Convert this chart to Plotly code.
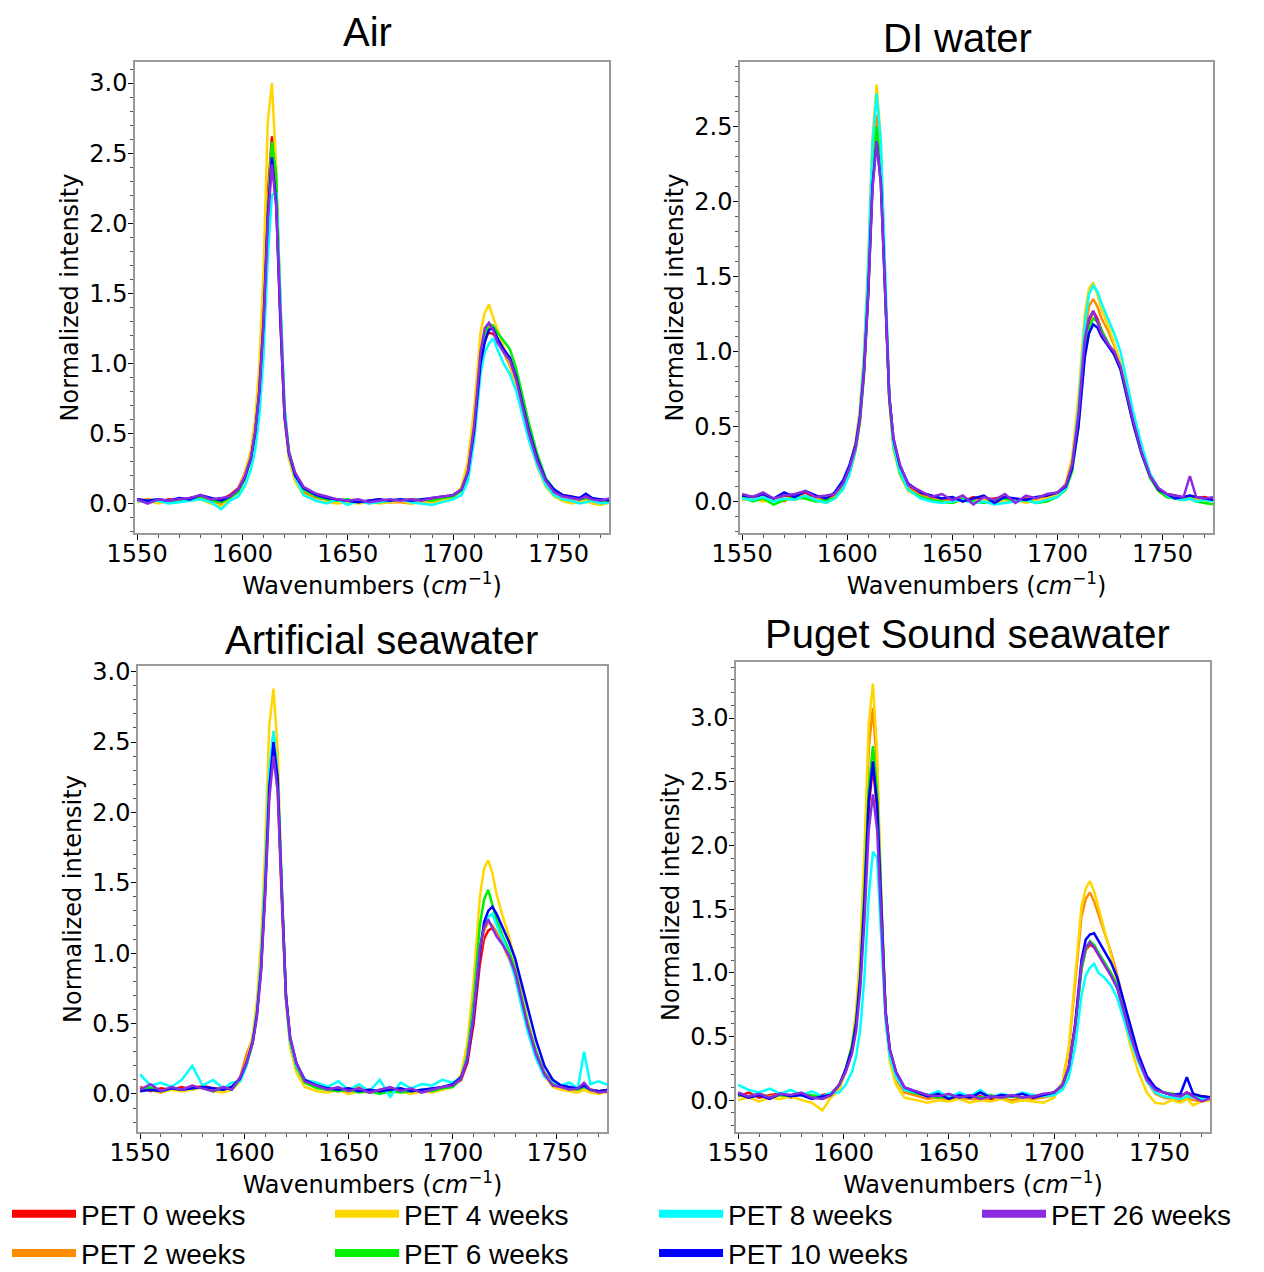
import plotly.graph_objects as go

# ---------------- data ----------------
XS = [1550, 1555, 1560, 1565, 1570, 1575, 1580, 1585, 1590, 1594,
      1598, 1601, 1604, 1606, 1608, 1610, 1612, 1614, 1616, 1618, 1620, 1622, 1625, 1629,
      1635, 1640, 1645, 1650, 1655, 1660, 1665, 1670, 1675, 1680, 1685, 1690, 1695,
      1700, 1704, 1707, 1710, 1713, 1715, 1717, 1719, 1721, 1724, 1727, 1730, 1733, 1736, 1740, 1744, 1748,
      1752, 1756, 1760, 1763, 1766, 1770, 1775]

SERIES_NAMES = ["PET 0 weeks", "PET 2 weeks", "PET 4 weeks", "PET 6 weeks",
                "PET 8 weeks", "PET 10 weeks", "PET 26 weeks"]
PANEL_TITLES = ["Air", "DI water", "Artificial seawater", "Puget Sound seawater"]

# Air
AIR_0 = [0.03, 0.02, 0.01, 0.03, 0.02, 0.04, 0.05, 0.03, 0.03, 0.06,
         0.11, 0.21, 0.36, 0.54, 0.86, 1.40, 2.20, 2.62, 2.25, 1.35, 0.64, 0.37, 0.20, 0.10,
         0.06, 0.04, 0.03, 0.02, 0.01, 0.02, 0.03, 0.01, 0.02, 0.03, 0.02, 0.03, 0.04,
         0.06, 0.10, 0.24, 0.56, 1.02, 1.18, 1.22, 1.21, 1.17, 1.10, 1.03, 0.88, 0.69, 0.51, 0.31, 0.16, 0.09,
         0.06, 0.05, 0.03, 0.04, 0.03, 0.02, 0.03]
AIR_2 = [0.02, 0.03, 0.02, 0.01, 0.03, 0.02, 0.04, 0.03, -0.01, 0.04,
         0.10, 0.20, 0.35, 0.53, 0.84, 1.36, 2.14, 2.55, 2.20, 1.32, 0.62, 0.35, 0.19, 0.08,
         0.04, 0.03, 0.02, 0.01, 0.02, 0.00, 0.02, 0.01, 0.01, 0.00, 0.02, 0.01, 0.03,
         0.05, 0.11, 0.25, 0.58, 1.06, 1.22, 1.27, 1.24, 1.18, 1.08, 0.98, 0.84, 0.65, 0.47, 0.27, 0.13, 0.06,
         0.03, 0.02, 0.01, 0.02, 0.01, 0.00, 0.02]
AIR_4 = [0.01, 0.02, 0.00, 0.02, 0.03, 0.02, 0.03, 0.00, -0.02, 0.03,
         0.10, 0.21, 0.38, 0.60, 0.98, 1.65, 2.72, 3.00, 2.40, 1.35, 0.60, 0.32, 0.16, 0.06,
         0.02, 0.01, 0.00, 0.01, 0.00, 0.01, 0.00, 0.01, 0.02, 0.00, 0.01, 0.00, 0.02,
         0.04, 0.12, 0.30, 0.68, 1.22, 1.36, 1.42, 1.33, 1.24, 1.12, 1.00, 0.84, 0.64, 0.46, 0.26, 0.12, 0.05,
         0.02, 0.00, 0.01, 0.02, 0.00, -0.01, 0.01]
AIR_6 = [0.02, 0.02, 0.03, 0.01, 0.02, 0.03, 0.04, 0.02, 0.01, 0.04,
         0.08, 0.17, 0.31, 0.48, 0.76, 1.22, 2.02, 2.58, 2.35, 1.45, 0.68, 0.38, 0.21, 0.10,
         0.05, 0.03, 0.02, 0.03, 0.01, 0.02, 0.01, 0.02, 0.03, 0.02, 0.03, 0.02, 0.04,
         0.05, 0.09, 0.21, 0.52, 1.02, 1.20, 1.28, 1.27, 1.22, 1.16, 1.10, 0.96, 0.76, 0.57, 0.35, 0.18, 0.10,
         0.06, 0.04, 0.03, 0.04, 0.03, 0.02, 0.02]
AIR_8 = [0.02, 0.01, 0.02, 0.00, 0.01, 0.02, 0.03, 0.01, -0.04, 0.02,
         0.05, 0.12, 0.24, 0.38, 0.62, 1.05, 1.75, 2.20, 2.22, 1.45, 0.68, 0.36, 0.19, 0.06,
         0.02, 0.00, 0.03, -0.01, 0.02, 0.00, 0.01, 0.02, 0.03, 0.01, 0.00, -0.01, 0.01,
         0.03, 0.06, 0.16, 0.45, 0.92, 1.08, 1.14, 1.18, 1.10, 1.00, 0.92, 0.80, 0.62, 0.45, 0.27, 0.13, 0.06,
         0.03, 0.02, 0.00, 0.01, 0.02, 0.00, 0.01]
AIR_10 = [0.03, 0.02, 0.03, 0.02, 0.04, 0.03, 0.06, 0.04, 0.02, 0.05,
          0.10, 0.18, 0.32, 0.50, 0.80, 1.30, 2.05, 2.47, 2.15, 1.30, 0.62, 0.36, 0.20, 0.11,
          0.06, 0.04, 0.03, 0.02, 0.01, 0.02, 0.03, 0.02, 0.03, 0.02, 0.03, 0.04, 0.05,
          0.06, 0.10, 0.22, 0.52, 1.00, 1.15, 1.24, 1.25, 1.18, 1.10, 1.04, 0.90, 0.70, 0.52, 0.32, 0.17, 0.10,
          0.06, 0.05, 0.04, 0.07, 0.04, 0.03, 0.02]
AIR_26 = [0.03, 0.00, 0.03, 0.02, 0.03, 0.04, 0.06, 0.03, 0.04, 0.05,
          0.10, 0.19, 0.33, 0.51, 0.80, 1.28, 2.00, 2.42, 2.12, 1.30, 0.62, 0.37, 0.22, 0.12,
          0.07, 0.05, 0.03, 0.02, 0.03, 0.01, 0.02, 0.03, 0.02, 0.03, 0.02, 0.04, 0.05,
          0.06, 0.10, 0.23, 0.56, 1.08, 1.25, 1.29, 1.24, 1.15, 1.08, 1.02, 0.88, 0.68, 0.50, 0.30, 0.16, 0.08,
          0.05, 0.04, 0.03, 0.05, 0.03, 0.02, 0.04]

# DI water
DI_0 = [0.04, 0.02, 0.05, 0.01, 0.04, 0.03, 0.06, 0.02, 0.01, 0.05,
        0.12, 0.20, 0.36, 0.55, 0.88, 1.42, 2.15, 2.48, 2.20, 1.40, 0.70, 0.40, 0.22, 0.10,
        0.05, 0.03, 0.01, 0.02, 0.00, 0.03, 0.01, 0.02, 0.03, 0.01, 0.02, 0.01, 0.03,
        0.05, 0.10, 0.24, 0.55, 1.00, 1.20, 1.27, 1.22, 1.14, 1.05, 0.98, 0.90, 0.72, 0.55, 0.34, 0.18, 0.09,
        0.05, 0.04, 0.02, 0.03, 0.02, 0.03, 0.01]
DI_2 = [0.02, 0.03, 0.01, 0.02, 0.00, 0.04, 0.03, 0.02, 0.01, 0.03,
        0.11, 0.22, 0.38, 0.58, 0.92, 1.50, 2.25, 2.58, 2.25, 1.42, 0.70, 0.38, 0.20, 0.09,
        0.04, 0.02, 0.01, 0.00, 0.02, 0.01, 0.00, 0.01, 0.02, 0.01, 0.00, 0.02, 0.02,
        0.05, 0.12, 0.28, 0.62, 1.12, 1.30, 1.35, 1.30, 1.22, 1.14, 1.04, 0.92, 0.74, 0.55, 0.34, 0.17, 0.08,
        0.04, 0.03, 0.02, 0.03, 0.02, 0.01, 0.02]
DI_4 = [0.01, 0.02, 0.00, 0.01, 0.02, 0.01, 0.03, 0.01, -0.01, 0.02,
        0.10, 0.22, 0.40, 0.62, 1.00, 1.62, 2.42, 2.78, 2.40, 1.45, 0.68, 0.35, 0.18, 0.07,
        0.03, 0.01, 0.00, -0.01, 0.01, 0.00, 0.01, -0.01, 0.00, 0.01, -0.01, 0.01, 0.02,
        0.04, 0.12, 0.30, 0.70, 1.25, 1.42, 1.46, 1.38, 1.28, 1.18, 1.06, 0.93, 0.74, 0.55, 0.33, 0.16, 0.07,
        0.03, 0.02, 0.01, 0.02, 0.01, 0.00, 0.01]
DI_6 = [0.03, 0.00, 0.02, -0.02, 0.01, 0.03, 0.02, 0.00, 0.01, 0.02,
        0.09, 0.18, 0.34, 0.52, 0.84, 1.38, 2.15, 2.50, 2.22, 1.40, 0.68, 0.37, 0.19, 0.08,
        0.03, 0.01, 0.00, -0.01, 0.02, 0.00, -0.01, 0.01, 0.02, 0.00, 0.01, -0.01, 0.00,
        0.03, 0.08, 0.20, 0.50, 0.98, 1.16, 1.22, 1.20, 1.14, 1.06, 0.98, 0.88, 0.70, 0.52, 0.32, 0.16, 0.07,
        0.03, 0.02, 0.01, 0.02, 0.00, -0.01, -0.02]
DI_8 = [0.02, 0.01, 0.03, 0.00, 0.02, 0.01, 0.04, 0.01, -0.01, 0.02,
        0.08, 0.18, 0.36, 0.58, 0.96, 1.58, 2.38, 2.72, 2.40, 1.48, 0.72, 0.38, 0.20, 0.08,
        0.02, 0.00, -0.01, 0.00, 0.01, -0.01, 0.00, -0.02, -0.01, 0.00, 0.01, -0.01, 0.01,
        0.03, 0.09, 0.24, 0.62, 1.18, 1.38, 1.44, 1.40, 1.32, 1.22, 1.12, 1.00, 0.80, 0.60, 0.38, 0.19, 0.09,
        0.04, 0.02, 0.01, 0.02, 0.00, 0.01, 0.00]
DI_10 = [0.04, 0.03, 0.05, 0.02, 0.06, 0.03, 0.07, 0.04, 0.02, 0.06,
         0.14, 0.24, 0.38, 0.56, 0.88, 1.40, 2.10, 2.40, 2.12, 1.38, 0.70, 0.42, 0.24, 0.12,
         0.06, 0.04, 0.02, 0.03, 0.00, 0.02, 0.04, -0.01, 0.03, 0.02, 0.01, 0.03, 0.04,
         0.06, 0.10, 0.22, 0.50, 0.96, 1.12, 1.18, 1.16, 1.10, 1.04, 0.98, 0.88, 0.70, 0.52, 0.32, 0.17, 0.08,
         0.05, 0.02, 0.03, 0.04, 0.03, 0.02, 0.01]
DI_26 = [0.05, 0.03, 0.06, 0.02, 0.04, 0.05, 0.07, 0.03, 0.04, 0.05,
         0.12, 0.22, 0.36, 0.54, 0.86, 1.38, 2.08, 2.40, 2.12, 1.38, 0.70, 0.42, 0.25, 0.11,
         0.07, 0.03, 0.05, 0.01, 0.04, -0.02, 0.03, 0.01, 0.05, -0.01, 0.04, 0.02, 0.05,
         0.06, 0.11, 0.25, 0.58, 1.08, 1.22, 1.27, 1.20, 1.12, 1.05, 1.00, 0.90, 0.72, 0.54, 0.33, 0.17, 0.09,
         0.05, 0.04, 0.03, 0.17, 0.03, 0.02, 0.03]

# Artificial seawater
ASW_0 = [0.05, 0.02, 0.04, 0.03, 0.05, 0.03, 0.06, 0.04, 0.03, 0.05,
         0.10, 0.22, 0.38, 0.58, 0.92, 1.50, 2.25, 2.55, 2.20, 1.38, 0.68, 0.38, 0.20, 0.09,
         0.05, 0.03, 0.02, 0.04, 0.02, 0.03, 0.01, 0.03, 0.02, 0.03, 0.02, 0.03, 0.04,
         0.06, 0.10, 0.22, 0.50, 0.92, 1.10, 1.16, 1.18, 1.14, 1.07, 0.98, 0.86, 0.68, 0.50, 0.30, 0.15, 0.08,
         0.06, 0.04, 0.03, 0.05, 0.03, 0.02, 0.03]
ASW_2 = [0.04, 0.03, 0.01, 0.05, 0.02, 0.04, 0.06, 0.03, 0.05, 0.04,
         0.12, 0.28, 0.40, 0.58, 0.90, 1.45, 2.15, 2.45, 2.15, 1.35, 0.68, 0.38, 0.20, 0.10,
         0.06, 0.04, 0.03, 0.02, 0.05, 0.01, 0.03, 0.02, 0.04, 0.01, 0.02, 0.03, 0.05,
         0.06, 0.12, 0.26, 0.56, 1.00, 1.16, 1.22, 1.20, 1.15, 1.06, 0.96, 0.84, 0.66, 0.48, 0.29, 0.14, 0.07,
         0.05, 0.04, 0.02, 0.06, 0.03, 0.02, 0.01]
ASW_4 = [0.02, 0.04, 0.01, 0.03, 0.02, 0.03, 0.05, 0.02, 0.01, 0.03,
         0.09, 0.22, 0.42, 0.66, 1.08, 1.76, 2.62, 2.88, 2.45, 1.45, 0.66, 0.33, 0.15, 0.05,
         0.02, 0.01, 0.03, 0.00, 0.02, 0.01, 0.03, 0.01, 0.02, 0.00, 0.02, 0.01, 0.03,
         0.05, 0.14, 0.36, 0.80, 1.40, 1.60, 1.66, 1.57, 1.42, 1.26, 1.12, 0.94, 0.72, 0.52, 0.30, 0.13, 0.05,
         0.03, 0.02, 0.01, 0.03, 0.01, 0.00, 0.02]
ASW_6 = [0.03, 0.05, 0.02, 0.04, 0.03, 0.05, 0.04, 0.02, 0.04, 0.03,
         0.10, 0.20, 0.36, 0.56, 0.90, 1.48, 2.22, 2.56, 2.25, 1.40, 0.68, 0.37, 0.19, 0.08,
         0.04, 0.03, 0.02, 0.03, 0.01, 0.02, 0.00, 0.02, 0.01, 0.02, 0.03, 0.02, 0.04,
         0.05, 0.11, 0.28, 0.66, 1.20, 1.38, 1.45, 1.35, 1.24, 1.12, 1.02, 0.88, 0.68, 0.50, 0.30, 0.15, 0.07,
         0.05, 0.04, 0.03, 0.05, 0.03, 0.02, 0.02]
ASW_8 = [0.14, 0.06, 0.08, 0.05, 0.10, 0.20, 0.06, 0.10, 0.04, 0.08,
         0.09, 0.20, 0.38, 0.58, 0.94, 1.55, 2.30, 2.58, 2.25, 1.40, 0.68, 0.38, 0.20, 0.10,
         0.08, 0.05, 0.09, 0.03, 0.07, 0.02, 0.10, -0.02, 0.08, 0.04, 0.07, 0.06, 0.10,
         0.08, 0.12, 0.26, 0.58, 1.04, 1.20, 1.26, 1.28, 1.20, 1.10, 0.98, 0.82, 0.62, 0.44, 0.25, 0.12, 0.09,
         0.06, 0.08, 0.04, 0.30, 0.07, 0.09, 0.06]
ASW_10 = [0.02, 0.03, 0.02, 0.04, 0.03, 0.04, 0.05, 0.04, 0.03, 0.05,
          0.11, 0.22, 0.37, 0.56, 0.88, 1.45, 2.18, 2.50, 2.24, 1.42, 0.70, 0.40, 0.22, 0.10,
          0.06, 0.04, 0.03, 0.04, 0.02, 0.03, 0.02, 0.03, 0.04, 0.02, 0.03, 0.04, 0.05,
          0.07, 0.12, 0.24, 0.54, 1.00, 1.22, 1.30, 1.33, 1.28, 1.18, 1.08, 0.96, 0.78, 0.60, 0.38, 0.20, 0.10,
          0.06, 0.05, 0.04, 0.06, 0.03, 0.02, 0.03]
ASW_26 = [0.03, 0.07, 0.02, 0.05, 0.03, 0.06, 0.04, 0.02, 0.05, 0.03,
          0.12, 0.22, 0.36, 0.54, 0.86, 1.40, 2.10, 2.40, 2.15, 1.38, 0.68, 0.40, 0.22, 0.09,
          0.06, 0.03, 0.05, 0.02, 0.04, 0.01, 0.03, 0.05, 0.02, 0.04, 0.01, 0.03, 0.05,
          0.06, 0.11, 0.25, 0.56, 1.04, 1.18, 1.24, 1.18, 1.12, 1.06, 0.98, 0.86, 0.66, 0.48, 0.28, 0.14, 0.06,
          0.05, 0.03, 0.04, 0.08, 0.03, 0.01, 0.02]

# Puget Sound seawater
PSS_0 = [0.03, 0.06, 0.02, 0.04, 0.05, 0.03, 0.05, 0.02, 0.04, 0.05,
         0.12, 0.22, 0.38, 0.58, 0.94, 1.55, 2.30, 2.62, 2.28, 1.42, 0.68, 0.38, 0.20, 0.08,
         0.05, 0.03, 0.02, 0.03, 0.01, 0.02, 0.03, 0.01, 0.02, 0.03, 0.02, 0.04, 0.03,
         0.06, 0.11, 0.26, 0.58, 1.04, 1.18, 1.22, 1.20, 1.14, 1.06, 0.98, 0.88, 0.70, 0.52, 0.32, 0.16, 0.08,
         0.06, 0.04, 0.03, 0.06, 0.04, 0.03, 0.02]
PSS_2 = [0.04, 0.02, 0.05, 0.03, 0.04, 0.02, 0.05, 0.03, 0.01, 0.03,
         0.10, 0.22, 0.42, 0.66, 1.10, 1.82, 2.76, 3.08, 2.60, 1.52, 0.68, 0.34, 0.16, 0.06,
         0.03, 0.01, 0.02, 0.00, 0.02, 0.01, 0.00, 0.02, 0.01, 0.00, 0.02, 0.01, 0.02,
         0.04, 0.14, 0.40, 0.92, 1.44, 1.58, 1.63, 1.56, 1.46, 1.32, 1.16, 0.98, 0.76, 0.56, 0.32, 0.15, 0.05,
         0.02, 0.01, 0.00, 0.02, 0.00, -0.01, 0.01]
PSS_4 = [0.00, 0.02, -0.01, 0.02, 0.01, 0.03, 0.00, -0.02, -0.08, 0.02,
         0.08, 0.22, 0.44, 0.70, 1.18, 1.98, 2.95, 3.27, 2.72, 1.55, 0.66, 0.30, 0.12, 0.02,
         0.00, -0.02, 0.00, -0.01, 0.01, -0.02, 0.00, -0.01, 0.01, -0.02, 0.00, -0.01, -0.02,
         0.02, 0.14, 0.42, 0.98, 1.52, 1.66, 1.72, 1.64, 1.52, 1.34, 1.14, 0.92, 0.66, 0.44, 0.22, 0.06, -0.02,
         -0.03, 0.00, -0.02, 0.01, -0.04, -0.01, 0.00]
PSS_6 = [0.04, 0.03, 0.05, 0.02, 0.04, 0.03, 0.05, 0.04, 0.02, 0.04,
         0.12, 0.24, 0.42, 0.62, 1.00, 1.65, 2.45, 2.78, 2.42, 1.48, 0.70, 0.38, 0.20, 0.08,
         0.05, 0.04, 0.02, 0.03, 0.02, 0.03, 0.02, 0.04, 0.02, 0.03, 0.02, 0.03, 0.04,
         0.06, 0.11, 0.25, 0.56, 1.02, 1.18, 1.25, 1.22, 1.16, 1.08, 1.00, 0.90, 0.72, 0.54, 0.34, 0.17, 0.09,
         0.06, 0.05, 0.04, 0.05, 0.03, 0.02, 0.02]
PSS_8 = [0.12, 0.08, 0.06, 0.09, 0.05, 0.08, 0.04, 0.07, 0.03, 0.06,
         0.06, 0.12, 0.22, 0.34, 0.56, 0.98, 1.60, 1.95, 1.90, 1.25, 0.62, 0.34, 0.18, 0.08,
         0.06, 0.04, 0.07, 0.02, 0.06, 0.03, 0.08, 0.02, 0.05, 0.03, 0.06, 0.04, 0.03,
         0.04, 0.08, 0.18, 0.42, 0.82, 0.98, 1.04, 1.07, 1.00, 0.96, 0.90, 0.80, 0.64, 0.48, 0.30, 0.15, 0.06,
         0.03, 0.02, 0.01, 0.03, 0.02, 0.01, 0.02]
PSS_10 = [0.05, 0.02, 0.04, 0.01, 0.05, 0.03, 0.04, 0.01, 0.03, 0.04,
          0.12, 0.24, 0.40, 0.60, 0.96, 1.58, 2.35, 2.66, 2.32, 1.45, 0.70, 0.40, 0.22, 0.10,
          0.06, 0.03, 0.05, 0.01, 0.04, 0.02, 0.06, 0.02, 0.04, 0.03, 0.05, 0.02, 0.04,
          0.06, 0.12, 0.26, 0.60, 1.10, 1.26, 1.30, 1.31, 1.25, 1.16, 1.08, 0.96, 0.78, 0.58, 0.36, 0.19, 0.10,
          0.06, 0.04, 0.05, 0.18, 0.05, 0.03, 0.02]
PSS_26 = [0.06, 0.03, 0.05, 0.02, 0.05, 0.04, 0.06, 0.02, 0.01, 0.04,
          0.12, 0.22, 0.36, 0.54, 0.88, 1.42, 2.12, 2.40, 2.12, 1.36, 0.68, 0.40, 0.22, 0.10,
          0.07, 0.04, 0.03, 0.05, 0.02, 0.04, 0.01, 0.03, 0.02, 0.04, 0.02, 0.03, 0.05,
          0.06, 0.12, 0.26, 0.58, 1.06, 1.20, 1.24, 1.20, 1.14, 1.06, 0.98, 0.88, 0.70, 0.52, 0.32, 0.16, 0.08,
          0.06, 0.04, 0.03, 0.06, 0.03, -0.01, 0.02]

PANELS = [
    [AIR_0, AIR_2, AIR_4, AIR_6, AIR_8, AIR_10, AIR_26],
    [DI_0, DI_2, DI_4, DI_6, DI_8, DI_10, DI_26],
    [ASW_0, ASW_2, ASW_4, ASW_6, ASW_8, ASW_10, ASW_26],
    [PSS_0, PSS_2, PSS_4, PSS_6, PSS_8, PSS_10, PSS_26],
]
for p in PANELS:
    for s in p:
        assert len(s) == len(XS)

X_TICKS = [1550, 1600, 1650, 1700, 1750]

# ---------------- style ----------------
COLORS = ["#ff0000", "#ff8c00", "#ffd700", "#00f000", "#00ffff", "#0000ff", "#8a2be2"]
TICK_FONT = dict(family="DejaVu Sans", size=24, color="black")
TITLE_FONT = dict(family="Liberation Sans", size=40, color="black")
LEG_FONT = dict(family="Liberation Sans", size=28, color="black")

# the page body has an 8px default margin: figure is placed at (8, 8)
OFF = 8
W, H = 1256, 1264


def px(x):
    return (x - OFF) / W


def py(y):
    return 1 - (y - OFF) / H


DOMAINS = [  # (x domain, y domain) from reference pixel edges
    ([px(135), px(609)], [py(533), py(62)]),
    ([px(740), px(1213)], [py(533), py(62)]),
    ([px(138), px(607)], [py(1132), py(666)]),
    ([px(736), px(1210)], [py(1132), py(662)]),
]
YRANGES = [[-0.21, 3.15], [-0.21, 2.93], [-0.27, 3.04], [-0.25, 3.44]]
XRANGE = [1549, 1774]
TITLE_POS = [(px(367), py(32)), (px(957), py(38)), (px(381), py(640)), (px(967), py(634))]

fig = go.Figure()
layout = dict(
    width=W, height=H,
    margin=dict(l=0, r=0, t=0, b=0, autoexpand=False),
    paper_bgcolor="white", plot_bgcolor="white",
    showlegend=True,
    annotations=[],
)

for i, series in enumerate(PANELS):
    xa = "x" if i == 0 else f"x{i + 1}"
    ya = "y" if i == 0 else f"y{i + 1}"
    for j, vals in enumerate(series):
        fig.add_trace(go.Scatter(
            x=XS, y=vals, mode="lines", xaxis=xa, yaxis=ya,
            line=dict(color=COLORS[j], width=2.5),
            name=SERIES_NAMES[j], showlegend=False, hoverinfo="skip",
        ))
    axis_common = dict(
        showline=True, linecolor="#9a9a9a", linewidth=1.5, mirror=True,
        ticks="outside", ticklen=5, tickwidth=1.2, tickcolor="black",
        showgrid=False, zeroline=False, tickfont=TICK_FONT, automargin=False,
    )
    xkey = "xaxis" if i == 0 else f"xaxis{i + 1}"
    ykey = "yaxis" if i == 0 else f"yaxis{i + 1}"
    layout[xkey] = dict(
        axis_common, domain=DOMAINS[i][0], range=XRANGE, anchor=ya,
        tickvals=X_TICKS, ticklabelstandoff=-7,
        minor=dict(dtick=10, tick0=1550, ticks="outside", ticklen=3, tickcolor="#555", showgrid=False),
        title=dict(text="Wavenumbers (<i>cm</i><sup>\u22121</sup>)", font=TICK_FONT, standoff=2),
    )
    layout[ykey] = dict(
        axis_common, domain=DOMAINS[i][1], range=YRANGES[i], anchor=xa,
        dtick=0.5, tick0=0, tickformat=".1f", ticklabelstandoff=-4,
        minor=dict(dtick=0.1, tick0=0, ticks="outside", ticklen=3, tickcolor="#555", showgrid=False),
        title=dict(text="Normalized intensity", font=TICK_FONT, standoff=4),
    )
    layout["annotations"].append(dict(
        text=PANEL_TITLES[i], x=TITLE_POS[i][0], y=TITLE_POS[i][1],
        xref="paper", yref="paper", xanchor="center", yanchor="middle",
        showarrow=False, font=TITLE_FONT,
    ))

# legend-only entries, one legend per column
LEG_COLS = [[0, 1], [2, 3], [4, 5], [6]]
LEG_X = [12, 335, 659, 982]
for c, members in enumerate(LEG_COLS):
    lname = "legend" if c == 0 else f"legend{c + 1}"
    for j in members:
        fig.add_trace(go.Scatter(
            x=[None], y=[None], mode="lines", name=SERIES_NAMES[j],
            line=dict(color=COLORS[j], width=8), showlegend=True, legend=lname,
        ))
    layout[lname] = dict(
        x=px(LEG_X[c] - 5), y=py(1189), xanchor="left", yanchor="top",
        orientation="v", font=LEG_FONT, bgcolor="rgba(0,0,0,0)", itemwidth=64,
        tracegroupgap=0, itemclick=False, itemdoubleclick=False,
    )

fig.update_layout(**layout)
fig.write_html("out.html")
